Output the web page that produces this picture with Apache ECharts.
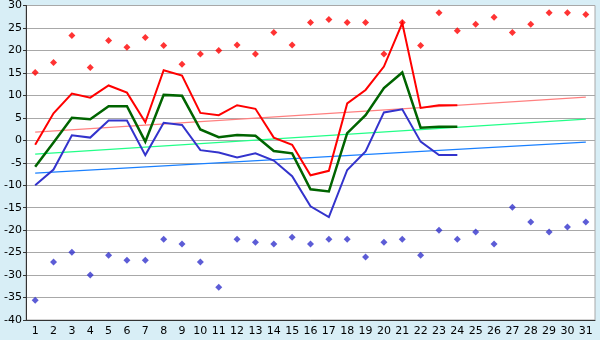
<!DOCTYPE html>
<html>
<head>
<meta charset="utf-8">
<script src="https://cdn.jsdelivr.net/npm/echarts@6/dist/echarts.min.js"></script>
<style>
  html, body { margin: 0; padding: 0; background: #d8eef6; }
  #chart { width: 600px; height: 340px; }
</style>
</head>
<body>
<div id="chart"></div>
<script>
// Day-of-month categories
const days = ['1','2','3','4','5','6','7','8','9','10','11','12','13','14','15','16',
              '17','18','19','20','21','22','23','24','25','26','27','28','29','30','31'];

// Daily maximum / mean / minimum temperature (days 1-24)
const maxTemp  = [-1.0, 6.0, 10.4, 9.5, 12.2, 10.6, 4.0, 15.6, 14.4, 6.1, 5.6, 7.8,
                  7.0, 0.6, -1.0, -7.8, -6.8, 8.2, 11.2, 16.4, 26.1, 7.2, 7.8, 7.8];
const meanTemp = [-5.9, -0.5, 5.0, 4.7, 7.6, 7.6, -0.3, 10.1, 9.9, 2.4, 0.7, 1.2,
                  1.0, -2.4, -2.9, -10.9, -11.4, 1.6, 5.6, 11.6, 15.1, 2.8, 3.0, 3.0];
const minTemp  = [-10.0, -6.5, 1.1, 0.6, 4.4, 4.4, -3.3, 3.9, 3.4, -2.2, -2.7, -3.8,
                  -2.9, -4.5, -8.0, -14.7, -17.1, -6.6, -2.5, 6.2, 6.9, -0.3, -3.3, -3.3];

// Record high / record low per day
const recordHigh = [15.1, 17.3, 23.3, 16.2, 22.2, 20.7, 22.9, 21.1, 16.9, 19.2, 20.0,
                    21.2, 19.2, 24.0, 21.2, 26.2, 26.9, 26.2, 26.2, 19.2, 26.2, 21.1,
                    28.4, 24.4, 25.8, 27.4, 24.0, 25.8, 28.4, 28.4, 28.0];
const recordLow  = [-35.6, -27.1, -24.9, -30.0, -25.6, -26.7, -26.7, -22.0, -23.1,
                    -27.1, -32.7, -22.0, -22.7, -23.1, -21.6, -23.1, -22.0, -22.0,
                    -26.0, -22.7, -22.0, -25.6, -20.0, -22.0, -20.4, -23.1, -14.9,
                    -18.2, -20.4, -19.3, -18.2];

// Long-term normals: values on the first and last day of the month
const normalMax  = [1.8, 9.6];
const normalMean = [-3.1, 4.7];
const normalMin  = [-7.3, -0.4];

// y-axis range and step
const yMin = -40, yMax = 30, yStep = 5;

const FONT = 'DejaVu Sans';

function normalSeries(ends, color) {
  return {
    type: 'line',
    data: [[days[0], ends[0]], [days[days.length - 1], ends[1]]],
    symbol: 'none',
    silent: true,
    z: 1,
    lineStyle: { color: color, width: 1.3 }
  };
}

function tempSeries(values, color, width) {
  return {
    type: 'line',
    data: values,
    symbol: 'none',
    z: 3,
    lineStyle: { color: color, width: width, join: 'miter' }
  };
}

function recordSeries(values, color) {
  return {
    type: 'scatter',
    data: values,
    symbol: 'diamond',
    symbolSize: [7, 7],
    z: 4,
    itemStyle: { color: color }
  };
}

const chart = echarts.init(document.getElementById('chart'), null, { renderer: 'canvas' });
chart.setOption({
  animation: false,
  backgroundColor: '#d8eef6',
  grid: {
    left: 26, right: 5, top: 5, bottom: 20,
    show: true,
    backgroundColor: '#ffffff',
    borderColor: '#a8a8a8',
    borderWidth: 1
  },
  xAxis: {
    type: 'category',
    data: days,
    boundaryGap: true,
    axisLine: { onZero: false, lineStyle: { color: '#333333', width: 1 } },
    axisTick: { alignWithLabel: true, length: 4, lineStyle: { color: '#333333' } },
    axisLabel: { color: '#000000', fontFamily: FONT, fontSize: 11, margin: 6, interval: 0 },
    splitLine: { show: false }
  },
  yAxis: {
    type: 'value',
    min: yMin, max: yMax, interval: yStep,
    axisLine: { show: true, lineStyle: { color: '#333333', width: 1 } },
    axisTick: { show: true, length: 3, lineStyle: { color: '#333333' } },
    axisLabel: { color: '#000000', fontFamily: FONT, fontSize: 11, margin: 4 },
    splitLine: { show: true, lineStyle: { color: '#a8a8a8', width: 1.2 } }
  },
  series: [
    normalSeries(normalMax, '#ff8080'),
    normalSeries(normalMean, '#22ff88'),
    normalSeries(normalMin, '#1a80ff'),
    tempSeries(maxTemp, '#ff0000', 2),
    tempSeries(meanTemp, '#006400', 2.5),
    tempSeries(minTemp, '#3333cc', 2),
    recordSeries(recordHigh, '#ff0000'),
    recordSeries(recordLow, '#3333cc')
  ]
});
</script>
</body>
</html>
